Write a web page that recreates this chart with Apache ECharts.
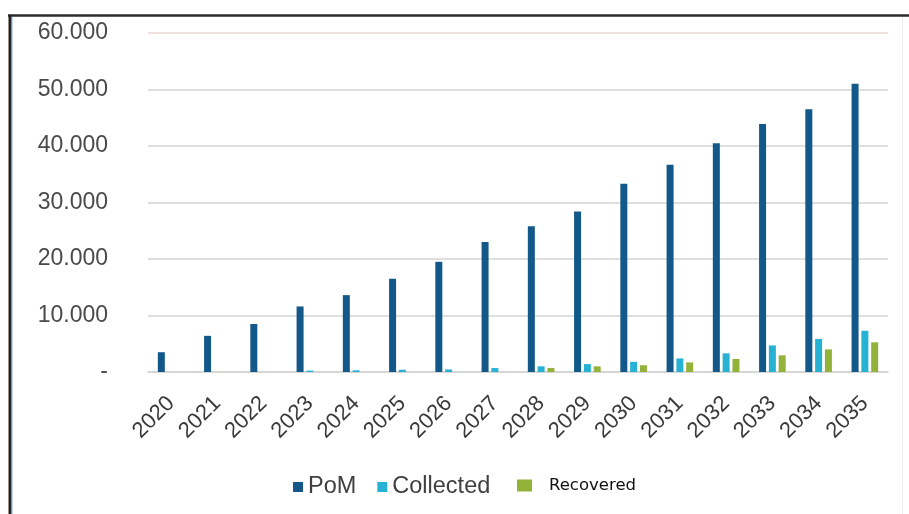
<!DOCTYPE html>
<html>
<head>
<meta charset="utf-8">
<script src="https://cdn.jsdelivr.net/npm/echarts@6/dist/echarts.min.js"></script>
<style>
html,body{margin:0;padding:0;background:#fff;}
#c{width:909px;height:514px;}
</style>
</head>
<body>
<div id="c"></div>
<script>
var categories = ['2020','2021','2022','2023','2024','2025','2026','2027','2028','2029','2030','2031','2032','2033','2034','2035'];
var pom = [3500, 6400, 8500, 11600, 13600, 16500, 19500, 23000, 25800, 28400, 33300, 36700, 40500, 43900, 46500, 51000];
var collected = [0, 0, 0, 250, 300, 400, 450, 700, 1000, 1400, 1800, 2400, 3300, 4700, 5850, 7300];
var recovered = [0, 0, 0, 0, 0, 0, 0, 0, 700, 1000, 1200, 1700, 2300, 2950, 4000, 5250];
var seriesNames = ['PoM', 'Collected', 'Recovered'];

function fmtY(v) {
  if (v === 0) return '-';
  var s = String(Math.round(v));
  return s.replace(/\B(?=(\d{3})+(?!\d))/g, '.');
}

var chart = echarts.init(document.getElementById('c'));
chart.setOption({
  animation: false,
  backgroundColor: '#ffffff',
  grid: { left: 148, right: 21, top: 33, bottom: 142 },
  graphic: [
    { type: 'line', shape: { x1: 8, y1: 15.5, x2: 909, y2: 15.5 }, style: { stroke: '#2b2b2b', lineWidth: 2.5 } },
    { type: 'line', shape: { x1: 10, y1: 15, x2: 10, y2: 514 }, style: { stroke: '#222', lineWidth: 3 } },
    { type: 'line', shape: { x1: 12.5, y1: 17, x2: 12.5, y2: 514 }, style: { stroke: '#c4d8ee', lineWidth: 1 } },
    { type: 'line', shape: { x1: 902.5, y1: 17, x2: 902.5, y2: 514 }, style: { stroke: '#e8f0f8', lineWidth: 1 } }
  ],
  legend: [
    {
      data: ['PoM', 'Collected'],
      left: 288, top: 470,
      icon: 'rect', itemWidth: 10, itemHeight: 10, itemGap: 21,
      textStyle: { fontFamily: 'Liberation Sans', fontSize: 23.5, color: '#404040' }
    },
    {
      data: ['Recovered'],
      left: 512, top: 472,
      icon: 'rect', itemWidth: 15, itemHeight: 12,
      formatter: function (n) { return '{r|' + n + '}'; },
      textStyle: { rich: { r: { fontFamily: 'DejaVu Sans', fontSize: 16.5, color: '#111', padding: [0, 0, 0, 12] } } }
    }
  ],
  xAxis: {
    type: 'category',
    data: categories,
    axisLine: { lineStyle: { color: '#d4d4d4', width: 1.5 } },
    axisTick: { show: false },
    axisLabel: { rotate: 45, fontFamily: 'Liberation Sans', fontSize: 22, color: '#3a3a3a', margin: 28 }
  },
  yAxis: {
    type: 'value',
    min: 0, max: 60000, interval: 10000,
    axisLine: { show: false },
    axisTick: { show: false },
    axisLabel: { formatter: fmtY, fontFamily: 'Liberation Sans', fontSize: 23, color: '#4a4a4a', margin: 40 },
    splitLine: { lineStyle: { color: ['#d4d4d4', '#d4d4d4', '#d4d4d4', '#d4d4d4', '#d4d4d4', '#d4d4d4', '#ecd6d6'], width: 1.5 } }
  },
  series: [
    { name: seriesNames[0], type: 'bar', data: pom, barWidth: 7, barGap: '40%', itemStyle: { color: '#125889' } },
    { name: seriesNames[1], type: 'bar', data: collected, barWidth: 7, barGap: '40%', itemStyle: { color: '#27b2d4' } },
    { name: seriesNames[2], type: 'bar', data: recovered, barWidth: 7, barGap: '40%', itemStyle: { color: '#93b23a' } }
  ]
});
</script>
</body>
</html>
